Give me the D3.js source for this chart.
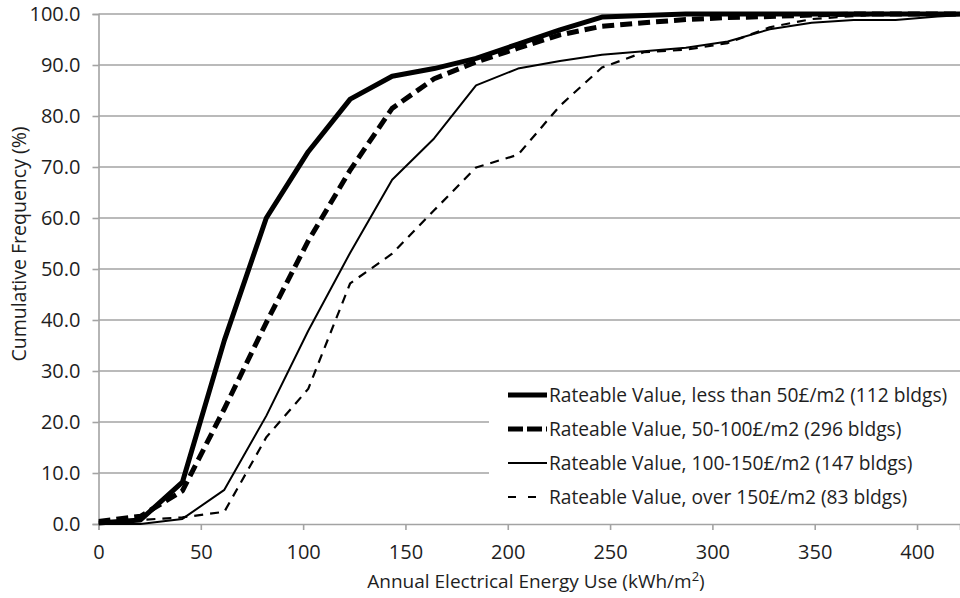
<!DOCTYPE html>
<html>
<head>
<meta charset="utf-8">
<script src="https://cdn.jsdelivr.net/npm/d3@7"></script>
<style>
  html, body { margin: 0; padding: 0; background: #fff; }
  svg { display: block; font-family: "Open Sans", "Noto Sans", sans-serif; }
</style>
</head>
<body>
<svg id="chart" width="960" height="598"></svg>
<script>
// Bin upper edges of annual electrical energy use (kWh/m2)
const energyBins = [0, 20.5, 41, 61.5, 82, 102.5, 123, 143.5, 164, 184.5, 205, 225.5, 246, 266.5, 287, 307.5, 328, 348.5, 369, 389.5, 410, 430.5];

// Cumulative frequency (%) per rateable value band
const rvUnder50 = [0.2, 0.8, 8.2, 36, 60, 73, 83.3, 87.8, 89.3, 91.3, 94.1, 96.9, 99.4, 99.7, 100, 100, 100, 100, 100, 100, 100, 100];
const rv50to100 = [0.5, 1.5, 6.5, 22.6, 39.5, 55.5, 69.4, 81.5, 87.3, 90.6, 93.3, 95.9, 97.6, 98.3, 98.9, 99.3, 99.5, 99.8, 100, 100, 100, 100];
const rv100to150 = [0, 0, 1.0, 6.7, 21.2, 37.9, 53.2, 67.5, 75.6, 86.0, 89.3, 90.8, 92.0, 92.7, 93.4, 94.6, 97.0, 98.3, 98.8, 98.8, 99.5, 100];
const rvOver150 = [0.3, 0.8, 1.3, 2.4, 17, 26.5, 47.2, 53.0, 61.5, 69.9, 72.4, 82.0, 89.5, 92.5, 93.0, 94.3, 97.4, 99.0, 99.6, 100, 100, 100];

const seriesLabels = [
  "Rateable Value, less than 50£/m2 (112 bldgs)",
  "Rateable Value, 50-100£/m2 (296 bldgs)",
  "Rateable Value, 100-150£/m2 (147 bldgs)",
  "Rateable Value, over 150£/m2 (83 bldgs)"
];

const xTicks = [0, 50, 100, 150, 200, 250, 300, 350, 400];
const yTicks = [0, 10, 20, 30, 40, 50, 60, 70, 80, 90, 100];

const seriesValues = [rvUnder50, rv50to100, rv100to150, rvOver150];
const seriesStyles = [
  { width: 5, dash: null },
  { width: 5, dash: "12,6" },
  { width: 2, dash: null },
  { width: 2.2, dash: "9,7" }
];

const svg = d3.select("#chart");
const plot = { left: 98.5, right: 960, top: 14, bottom: 524 };

const x = d3.scaleLinear().domain([0, 421]).range([plot.left, plot.right]);
const y = d3.scaleLinear().domain([0, 100]).range([plot.bottom, plot.top]);

const gridColor = "#a3a3a3";
const textColor = "#1e1e1e";

svg.append("defs").append("clipPath").attr("id", "plotClip")
  .append("rect")
  .attr("x", plot.left).attr("y", 0)
  .attr("width", plot.right - plot.left).attr("height", plot.bottom + 2);

// Horizontal gridlines
svg.append("g")
  .selectAll("line")
  .data(yTicks.filter(d => d > 0))
  .join("line")
  .attr("x1", plot.left).attr("x2", plot.right)
  .attr("y1", d => y(d)).attr("y2", d => y(d))
  .attr("stroke", gridColor).attr("stroke-width", 1.6);

// Y axis
const yAxis = svg.append("g")
  .attr("transform", `translate(${plot.left},0)`)
  .call(d3.axisLeft(y).tickValues(yTicks).tickFormat(d3.format(".1f")).tickSize(6).tickPadding(12));
yAxis.select(".domain").attr("stroke", gridColor).attr("stroke-width", 1.6);
yAxis.selectAll(".tick line").attr("stroke", gridColor).attr("stroke-width", 1.6);
yAxis.selectAll(".tick text")
  .attr("fill", textColor).attr("font-size", 20)
  .attr("font-family", "'Open Sans', sans-serif");

// X axis
const xAxis = svg.append("g")
  .attr("transform", `translate(0,${plot.bottom})`)
  .call(d3.axisBottom(x).tickValues(xTicks).tickFormat(d3.format("d")).tickSize(6).tickPadding(15));
xAxis.select(".domain").attr("stroke", gridColor).attr("stroke-width", 1.6);
xAxis.selectAll(".tick line").attr("stroke", gridColor).attr("stroke-width", 1.6);
xAxis.selectAll(".tick text")
  .attr("fill", textColor).attr("font-size", 20)
  .attr("font-family", "'Open Sans', sans-serif");

// Legend panel sits over the lower gridlines
const legend = svg.append("g");
legend.append("rect")
  .attr("x", 489).attr("y", 377)
  .attr("width", 960 - 489).attr("height", plot.bottom - 377 - 1)
  .attr("fill", "#fff");

// Cumulative frequency curves
const line = d3.line()
  .x((d, i) => x(energyBins[i]))
  .y(d => y(d));

const lines = svg.append("g").attr("clip-path", "url(#plotClip)");
seriesValues.forEach((vals, k) => {
  lines.append("path")
    .datum(vals)
    .attr("d", line)
    .attr("fill", "none")
    .attr("stroke", "#000")
    .attr("stroke-width", seriesStyles[k].width)
    .attr("stroke-dasharray", seriesStyles[k].dash)
    .attr("stroke-linejoin", "round");
});

// Legend entries
seriesLabels.forEach((label, k) => {
  const cy = 395 + k * 34;
  legend.append("line")
    .attr("x1", 508).attr("x2", 547)
    .attr("y1", cy).attr("y2", cy)
    .attr("stroke", "#000")
    .attr("stroke-width", seriesStyles[k].width)
    .attr("stroke-dasharray", k === 1 ? "15,4" : (k === 3 ? "8,12" : null));
  legend.append("text")
    .attr("x", 549).attr("y", cy)
    .attr("dy", "0.35em")
    .attr("font-size", 19.2)
    .attr("fill", textColor)
    .text(label);
});

// Axis titles
const xTitle = svg.append("text")
  .attr("x", 536).attr("y", 588)
  .attr("text-anchor", "middle")
  .attr("font-size", 19)
  .attr("fill", textColor);
xTitle.append("tspan").text("Annual Electrical Energy Use (kWh/m");
xTitle.append("tspan").attr("font-size", 13).attr("dy", -7).text("2");
xTitle.append("tspan").attr("dy", 7).text(")");

svg.append("text")
  .attr("transform", `translate(19,244) rotate(-90)`)
  .attr("text-anchor", "middle")
  .attr("dy", "0.35em")
  .attr("font-size", 19.5)
  .attr("fill", textColor)
  .text("Cumulative Frequency (%)");
</script>
</body>
</html>
